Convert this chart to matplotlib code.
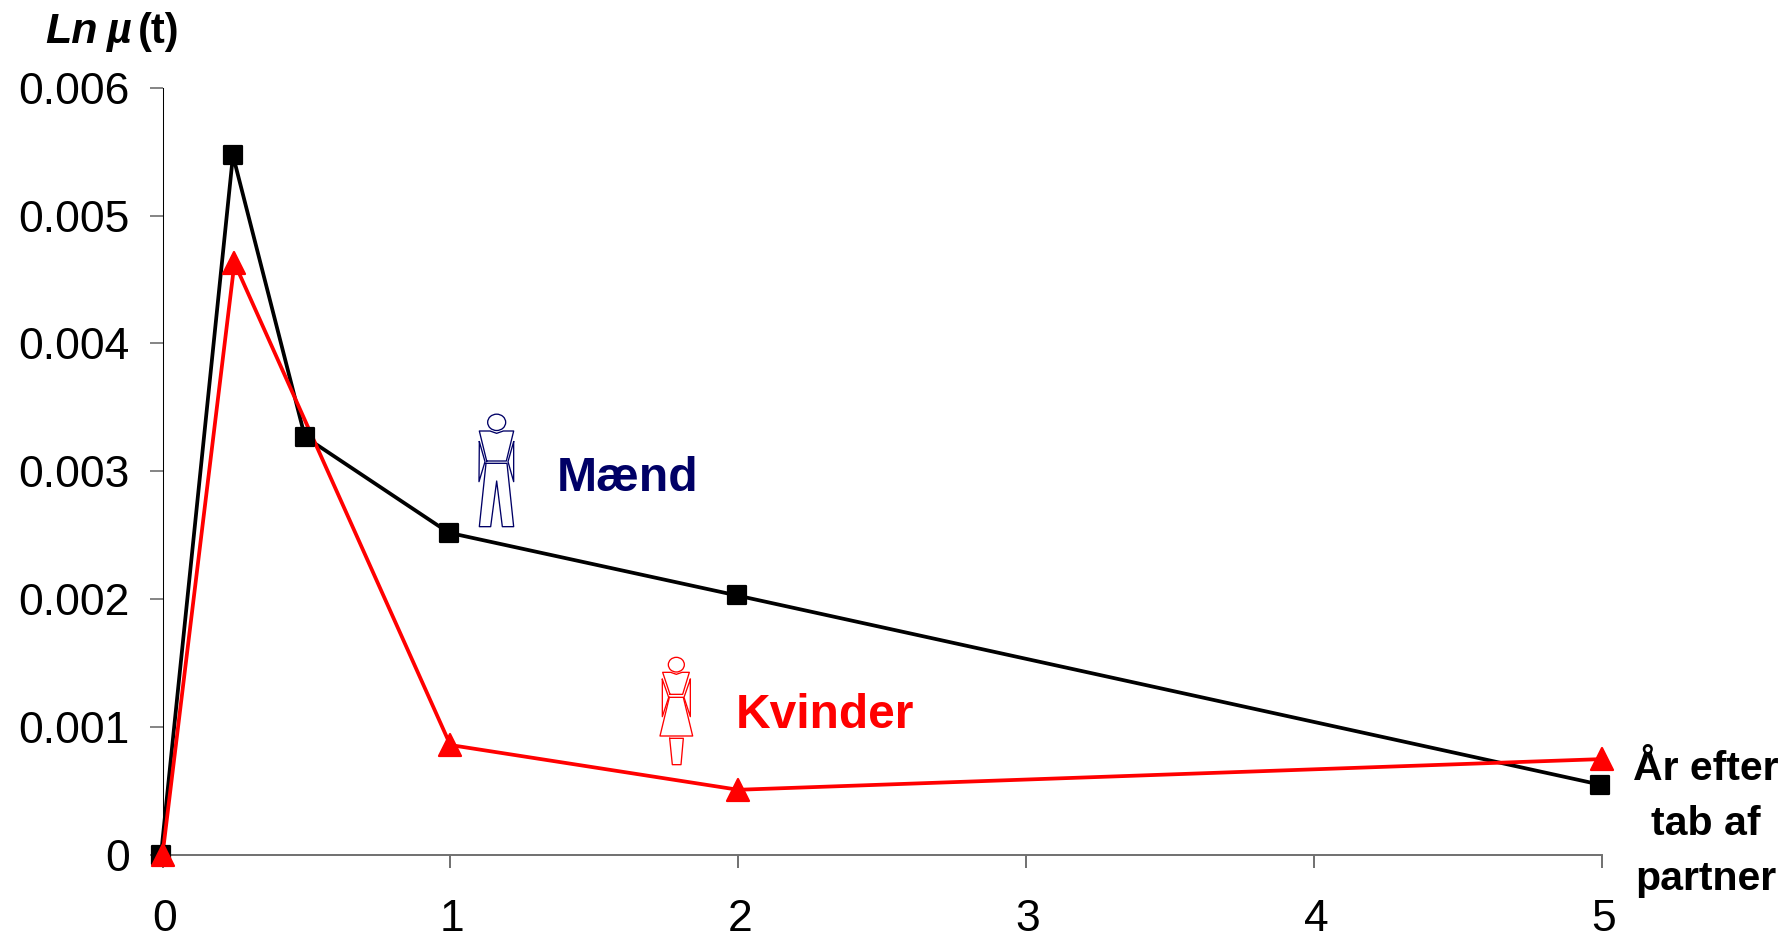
"""Excess mortality after losing a partner, men vs women."""
import matplotlib
matplotlib.use('Agg')
import matplotlib.pyplot as plt
from matplotlib.lines import Line2D
from matplotlib.markers import MarkerStyle
from matplotlib.patches import Ellipse
from matplotlib.transforms import Affine2D, ScaledTranslation

plt.rcParams['font.family'] = ['Liberation Sans', 'DejaVu Sans']

W, H = 1791, 938

# values
maend_x = [0, 0.25, 0.5, 1, 2, 5]
maend_y = [0, 0.00547, 0.00327, 0.00252, 0.00203, 0.00055]
kvinder_x = [0, 0.25, 1, 2, 5]
kvinder_y = [0, 0.00463, 0.00086, 0.00051, 0.00075]
x_ticks = [0, 1, 2, 3, 4, 5]
y_ticks = [0, 0.001, 0.002, 0.003, 0.004, 0.005, 0.006]
y_labels = ['0', '0.001', '0.002', '0.003', '0.004', '0.005', '0.006']

NAVY = '#000066'
RED = '#ff0000'

fig = plt.figure(figsize=(W / 100, H / 100), dpi=100)
ax = fig.add_axes([162.5 / W, 1 - 855 / H, (1601.7 - 162.5) / W, (855 - 87.7) / H])

# the black series sits a touch left of the axis in the original
black_tr = ax.transData + ScaledTranslation(-1.5 / 100, 0, fig.dpi_scale_trans)
square = MarkerStyle('s', joinstyle='round')
triangle = MarkerStyle('^', joinstyle='round')

# black line under red line, black squares over both, red triangles on top
ax.plot(maend_x, maend_y, color='black', lw=2.7, zorder=3, clip_on=False, transform=black_tr)
ax.plot(kvinder_x, kvinder_y, color=RED, lw=2.7, zorder=4, clip_on=False)
ax.plot(maend_x, maend_y, ls='none', marker=square, ms=13.4, color='black', mew=1.6,
        mec='black', zorder=5, clip_on=False, transform=black_tr)
ax.plot(kvinder_x, kvinder_y, ls='none', marker=triangle, ms=15.6, color=RED, mew=1.6,
        mec=RED, zorder=6, clip_on=False)

ax.set_xlim(0, 5)
ax.set_ylim(0, 0.006)
ax.set_xticks(x_ticks)
ax.set_xticklabels([str(v) for v in x_ticks])
ax.set_yticks(y_ticks)
ax.set_yticklabels(y_labels)
ax.tick_params(axis='x', labelsize=32, length=9.4, width=1.4, color='#707070', pad=22.5)
ax.tick_params(axis='y', labelsize=32, length=9.4, width=1.2, color='#707070', pad=14)
for lab in ax.get_xticklabels():
    lab.set_transform(lab.get_transform() + ScaledTranslation(2 / 100, 0, fig.dpi_scale_trans))

ax.spines['top'].set_visible(False)
ax.spines['right'].set_visible(False)
ax.spines['left'].set_color('black')
ax.spines['left'].set_linewidth(0.75)
ax.spines['bottom'].set_color('#707070')
ax.spines['bottom'].set_linewidth(1.4)

# pixel coordinates of the reference, y down, for labels and the little figures
px = Affine2D().scale(1 / W, -1 / H).translate(0, 1) + fig.transFigure


def outline(points, color):
    xs = [p[0] for p in points]
    ys = [p[1] for p in points]
    fig.add_artist(Line2D(xs, ys, color=color, lw=0.95, transform=px))


def man(x0, y0, color):
    # coordinates in 1/3 px, from the zoomed crop
    def p(*pts):
        return [(x0 + a / 3, y0 + b / 3) for a, b in pts]
    fig.add_artist(Ellipse((x0 + 170 / 3, y0 + 97 / 3), 54 / 3, 49 / 3, fill=False,
                           ec=color, lw=0.95, transform=px))
    outline(p((140, 213), (118, 123), (150, 123), (170, 130), (190, 123), (221, 123),
              (199, 213), (140, 213)), color)
    outline(p((138, 220), (118, 410), (152, 410), (170, 273), (187, 410), (221, 410),
              (201, 220), (138, 220)), color)
    outline(p((118, 155), (117, 275), (135, 215), (118, 155)), color)
    outline(p((221, 155), (221, 275), (204, 215), (221, 155)), color)


def woman(x0, y0, color):
    def p(*pts):
        return [(x0 + a / 3, y0 + b / 3) for a, b in pts]
    fig.add_artist(Ellipse((x0 + 139 / 3, y0 + 74 / 3), 48 / 3, 44 / 3, fill=False,
                           ec=color, lw=0.95, transform=px))
    outline(p((120, 163), (98, 97), (122, 97), (139, 103), (156, 97), (178, 97),
              (158, 163), (120, 163)), color)
    outline(p((118, 172), (90, 288), (188, 288), (160, 172), (118, 172)), color)
    outline(p((119, 295), (160, 295), (153, 374), (127, 374), (119, 295)), color)
    outline(p((97, 118), (97, 230), (116, 172), (97, 118)), color)
    outline(p((181, 118), (181, 230), (162, 172), (181, 118)), color)


man(440, 390, NAVY)
woman(630, 640, RED)

fig.text(557, 490.7, 'Mænd', transform=px, fontsize=34.7, fontweight='bold',
         color=NAVY, ha='left', va='baseline')
fig.text(736, 728, 'Kvinder', transform=px, fontsize=34.5, fontweight='bold',
         color=RED, ha='left', va='baseline')

for line, base in zip(['År efter', 'tab af', 'partner'], [780, 835, 890]):
    fig.text(1706, base, line, transform=px, fontsize=29.5, fontweight='bold',
             ha='center', va='baseline')

fig.text(45, 43, 'Ln', transform=px, fontsize=31, fontweight='bold', style='italic',
         ha='left', va='baseline')
fig.text(107, 43, 'µ', transform=px, fontsize=31, fontweight='bold', style='italic',
         ha='left', va='baseline')
fig.text(138, 43, '(t)', transform=px, fontsize=30, fontweight='bold',
         ha='left', va='baseline')

fig.savefig('out.png', dpi=100)
